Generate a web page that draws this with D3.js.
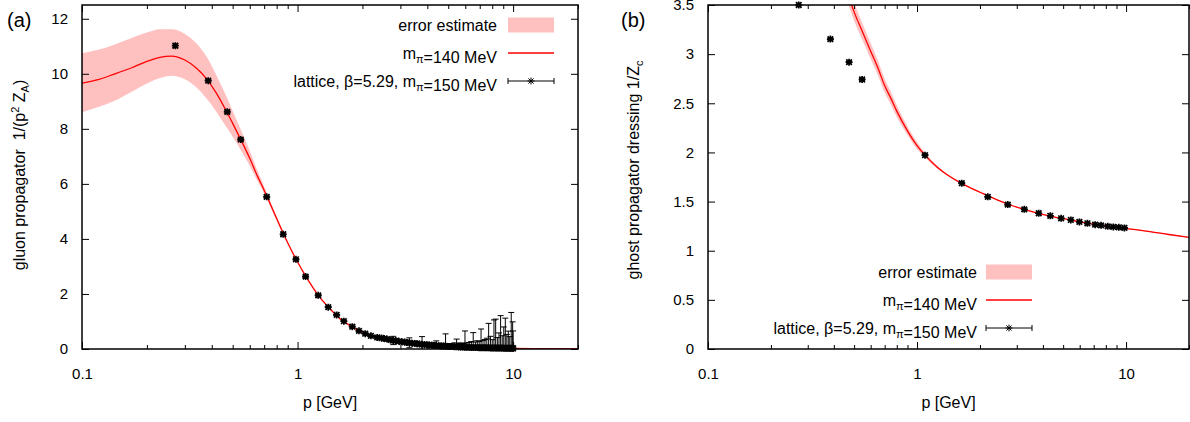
<!DOCTYPE html>
<html><head><meta charset="utf-8">
<script src="https://cdn.jsdelivr.net/npm/d3@7/dist/d3.min.js"></script>
<style>
body{margin:0;background:#fff;}
svg{font-family:"Liberation Sans",Arial,Helvetica,sans-serif;}
text{white-space:pre;}
</style></head><body>
<svg id="chart" width="1190" height="422"></svg>
<script>
// ---------- DATA ----------
const xMajorTicks = [0.1, 1, 10];
const xMajorLabels = ["0.1", "1", "10"];
const xMinorTicks = [0.2,0.3,0.4,0.5,0.6,0.7,0.8,0.9,2,3,4,5,6,7,8,9,20];
const yTicksA = [0,2,4,6,8,10,12];
const yTickLabelsA = ["0","2","4","6","8","10","12"];
const yTicksB = [0,0.5,1,1.5,2,2.5,3,3.5];
const yTickLabelsB = ["0","0.5","1","1.5","2","2.5","3","3.5"];

// panel (a): gluon propagator, DSE result (m_pi = 140 MeV) and error band
const gluonCurveP = [0.1,0.12,0.14,0.17,0.2,0.23,0.26,0.3,0.34,0.38,0.42,0.46,0.5,0.55,0.6,0.65,0.7,0.8,0.9,1.0,1.1,1.25,1.4,1.6,1.8,2.0,2.4,3,4,5,7,10,14,20];
const gluonCurve  = [9.66,9.8,9.98,10.22,10.45,10.6,10.64,10.5,10.2,9.8,9.3,8.75,8.2,7.55,6.93,6.3,5.77,4.74,3.86,3.16,2.6,1.94,1.5,1.05,0.8,0.6,0.4,0.26,0.14,0.09,0.045,0.022,0.011,0.006];
const gluonBandHi = [10.75,10.88,11.05,11.3,11.5,11.62,11.62,11.45,11.1,10.6,9.95,9.3,8.65,7.9,7.2,6.5,5.9,4.82,3.9,3.18,2.62,1.96,1.51,1.06,0.81,0.61,0.41,0.27,0.145,0.093,0.047,0.023,0.012,0.007];
const gluonBandLo = [8.6,8.8,9.0,9.35,9.65,9.85,9.93,9.8,9.5,9.08,8.62,8.15,7.72,7.18,6.66,6.12,5.64,4.66,3.82,3.14,2.58,1.92,1.49,1.04,0.79,0.59,0.39,0.25,0.135,0.087,0.043,0.021,0.01,0.005];

// panel (a): lattice gluon data (beta=5.29, m_pi=150 MeV)
const gluonLatP = [0.271,0.385,0.472,0.545,0.719,0.858,0.983,1.09,1.247,1.388,1.518,1.64,1.794,1.927,2.06,2.19,2.34,
  2.45,2.52,2.6,2.7,2.78,2.86,2.95,3.05,3.14,3.22,3.3,3.4,3.5,3.58,3.68,3.78,3.88,3.98,4.08,4.2,4.3,4.4,4.52,4.63,4.75,4.86,4.98,
  5.1,5.22,5.35,5.47,5.6,5.72,5.85,5.98,6.1,6.25,6.4,6.53,6.68,6.82,6.96,7.1,7.25,7.4,7.55,7.7,7.85,8.0,8.15,8.3,8.45,8.6,8.75,
  8.9,9.05,9.2,9.35,9.5,9.65,9.8,9.95,10.0];
const gluonLat = [11.02,9.75,8.62,7.61,5.53,4.17,3.26,2.63,1.95,1.52,1.24,1.01,0.81,0.66,0.556,0.48,0.42,
  0.40,0.38,0.36,0.33,0.31,0.30,0.28,0.26,0.25,0.235,0.225,0.21,0.20,0.19,0.18,0.17,0.16,0.155,0.145,0.14,0.13,0.125,0.12,0.11,0.105,0.10,0.095,
  0.09,0.088,0.083,0.08,0.076,0.072,0.07,0.066,0.064,0.06,0.058,0.055,0.053,0.05,0.049,0.047,0.045,0.044,0.042,0.041,0.04,0.038,0.037,0.036,0.035,0.034,0.033,
  0.032,0.031,0.031,0.030,0.029,0.029,0.028,0.027,0.026];
const gluonLatErr = [0.06,0.05,0.05,0.04,0.04,0.04,0.03,0.03,0.03,0.02,0.02,0.02,0.02,0.02,0.02,0.02,0.03,
  0.02,0.03,0.02,0.04,0.15,0.03,0.02,0.04,0.03,0.05,0.18,0.04,0.03,0.06,0.05,0.28,0.06,0.04,0.07,0.06,0.09,0.17,0.08,0.07,0.1,0.45,0.09,
  0.11,0.1,0.14,0.28,0.12,0.15,0.13,0.59,0.16,0.18,0.21,0.54,0.2,0.25,0.22,0.68,0.26,0.3,0.35,0.89,0.42,0.3,1.02,1.05,0.38,0.55,1.18,
  0.45,0.77,1.09,0.5,0.62,0.42,1.3,0.96,0.63];

// panel (b): ghost dressing, DSE result and error band
const ghostCurveP = [0.45,0.5,0.55,0.6,0.65,0.7,0.75,0.8,0.9,1.0,1.1,1.25,1.4,1.6,1.8,2.0,2.4,2.8,3.2,3.8,4.5,5.5,6.5,8,10,13,16,20];
const ghostCurve  = [3.72,3.43,3.22,3.03,2.86,2.68,2.55,2.42,2.22,2.07,1.965,1.85,1.77,1.695,1.64,1.595,1.52,1.465,1.425,1.38,1.345,1.31,1.28,1.25,1.226,1.195,1.165,1.136];
const ghostBandHi = [3.82,3.52,3.305,3.11,2.935,2.75,2.615,2.48,2.265,2.105,1.99,1.865,1.78,1.702,1.646,1.6,1.525,1.47,1.43,1.385,1.35,1.315,1.285,1.255,1.231,1.2,1.17,1.141];
const ghostBandLo = [3.62,3.34,3.135,2.95,2.785,2.61,2.485,2.36,2.175,2.035,1.94,1.835,1.76,1.688,1.634,1.59,1.515,1.46,1.42,1.375,1.34,1.305,1.275,1.245,1.221,1.19,1.16,1.131];

// panel (b): lattice ghost data
const ghostLatP = [0.2716,0.385,0.473,0.546,1.092,1.636,2.18,2.716,3.26,3.82,4.34,4.89,5.44,5.98,6.53,7.11,7.59,8.17,8.69,9.23,9.82];
const ghostLat  = [3.50,3.153,2.918,2.742,1.972,1.687,1.548,1.469,1.421,1.381,1.355,1.330,1.313,1.293,1.279,1.265,1.258,1.248,1.242,1.238,1.232];
const ghostLatErr = [0.01,0.01,0.01,0.01,0.008,0.006,0.005,0.005,0.004,0.004,0.004,0.004,0.004,0.004,0.004,0.004,0.004,0.004,0.004,0.004,0.004];

// legend labels (segments: [text, isSubscript])
const legendErr = [["error estimate", false]];
const legendDSE = [["m", false], ["π", true], ["=140 MeV", false]];
const legendLat = [["lattice, β=5.29, m", false], ["π", true], ["=150 MeV", false]];

// ---------- DRAWING ----------
const svg = d3.select("#chart");
const FONT = 16, TICKFONT = 15;
const RED = "#ff0000", PINK = "#ffc0c0";

function addSegments(textSel, segs) {
  segs.forEach(([t, sub]) => {
    if (sub) {
      textSel.append("tspan").attr("font-size", 11).attr("dy", 4).text(t);
      textSel.append("tspan").attr("dy", -4).text("");
    } else {
      textSel.append("tspan").text(t);
    }
  });
}

function panel(cfg) {
  const {x, y, id} = cfg;
  const [x0, x1] = x.range();
  const [y0, y1] = y.range(); // y0 bottom, y1 top
  const g = svg.append("g");

  g.append("clipPath").attr("id", id).append("rect")
    .attr("x", x0).attr("y", y1).attr("width", x1 - x0).attr("height", y0 - y1);

  const plot = g.append("g").attr("clip-path", `url(#${id})`);

  // band
  const bandData = cfg.bandP.map((p, i) => ({p, lo: cfg.bandLo[i], hi: cfg.bandHi[i]}));
  plot.append("path").datum(bandData)
    .attr("fill", PINK).attr("stroke", "none")
    .attr("d", d3.area().x(d => x(d.p)).y0(d => y(d.lo)).y1(d => y(d.hi)).curve(d3.curveMonotoneX));

  // curve
  const curveData = cfg.bandP.map((p, i) => ({p, v: cfg.curve[i]}));
  plot.append("path").datum(curveData)
    .attr("fill", "none").attr("stroke", RED).attr("stroke-width", 1.3)
    .attr("d", d3.line().x(d => x(d.p)).y(d => y(d.v)).curve(d3.curveMonotoneX));

  // error bars
  const lat = cfg.latP.map((p, i) => ({p, v: cfg.lat[i], e: cfg.latErr[i]}));
  const eb = plot.append("g").attr("stroke", "#000").attr("stroke-width", 1);
  lat.forEach(d => {
    const px = x(d.p), ya = y(d.v - d.e), yb = y(d.v + d.e);
    eb.append("line").attr("x1", px).attr("x2", px).attr("y1", ya).attr("y2", yb);
    eb.append("line").attr("x1", px - 3).attr("x2", px + 3).attr("y1", ya).attr("y2", ya);
    eb.append("line").attr("x1", px - 3).attr("x2", px + 3).attr("y1", yb).attr("y2", yb);
  });

  // points (star symbol)
  const star = "M-3.5,0H3.5M0,-3.5V3.5M-2.8,-2.8L2.8,2.8M-2.8,2.8L2.8,-2.8";
  g.append("g").selectAll("path.pt").data(lat).join("path")
    .attr("class", "pt")
    .attr("transform", d => `translate(${x(d.p)},${y(d.v)})`)
    .attr("d", star).attr("stroke", "#000").attr("stroke-width", 1.7).attr("fill", "none");

  // axes (ticks inward)
  const axG = g.append("g");
  axG.append("g").attr("transform", `translate(0,${y0})`)
    .call(d3.axisBottom(x).tickValues(xMajorTicks).tickFormat((d, i) => xMajorLabels[i]).tickSize(-7).tickPadding(19));
  axG.append("g").attr("transform", `translate(0,${y0})`)
    .call(d3.axisBottom(x).tickValues(xMinorTicks).tickFormat("").tickSize(-4));
  axG.append("g").attr("transform", `translate(0,${y1})`)
    .call(d3.axisTop(x).tickValues(xMajorTicks).tickFormat("").tickSize(-7));
  axG.append("g").attr("transform", `translate(0,${y1})`)
    .call(d3.axisTop(x).tickValues(xMinorTicks).tickFormat("").tickSize(-4));
  axG.append("g").attr("transform", `translate(${x0},0)`)
    .call(d3.axisLeft(y).tickValues(cfg.yTicks).tickFormat((d, i) => cfg.yTickLabels[i]).tickSize(-7).tickPadding(14));
  axG.append("g").attr("transform", `translate(${x1},0)`)
    .call(d3.axisRight(y).tickValues(cfg.yTicks).tickFormat("").tickSize(-7));
  axG.selectAll(".domain").remove();
  axG.selectAll(".tick line").attr("stroke", "#000").attr("stroke-width", 1);
  axG.selectAll(".tick text").attr("font-size", TICKFONT).attr("fill", "#000")
    .attr("font-family", '"Liberation Sans",Arial,sans-serif');

  // frame
  g.append("rect").attr("x", x0).attr("y", y1).attr("width", x1 - x0).attr("height", y0 - y1)
    .attr("fill", "none").attr("stroke", "#000").attr("stroke-width", 1.5);

  // x-axis title
  g.append("text").attr("x", (x0 + x1) / 2).attr("y", 408).attr("text-anchor", "middle")
    .attr("font-size", FONT).text("p [GeV]");

  // y-axis title
  const yt = g.append("text").attr("text-anchor", "middle").attr("font-size", FONT)
    .attr("transform", `translate(${cfg.yTitleX},${cfg.yTitleY}) rotate(-90)`);
  cfg.yTitle(yt);

  // panel tag
  g.append("text").attr("x", cfg.tagX).attr("y", 27).attr("font-size", 20).text(cfg.tag);

  // legend
  const L = cfg.legend;
  const rows = [legendErr, legendDSE, legendLat];
  rows.forEach((segs, i) => {
    const cy = L.y + i * L.dy;
    const t = g.append("text").attr("x", L.textX).attr("y", cy + 5.5).attr("text-anchor", "end").attr("font-size", FONT);
    addSegments(t, segs);
  });
  g.append("rect").attr("x", L.s0).attr("y", L.y - 7.5).attr("width", L.s1 - L.s0).attr("height", 15).attr("fill", PINK);
  g.append("line").attr("x1", L.s0).attr("x2", L.s1).attr("y1", L.y + L.dy).attr("y2", L.y + L.dy)
    .attr("stroke", RED).attr("stroke-width", 1.3);
  const ly = L.y + 2 * L.dy;
  const lg = g.append("g").attr("stroke", "#000").attr("stroke-width", 1);
  lg.append("line").attr("x1", L.s0).attr("x2", L.s1).attr("y1", ly).attr("y2", ly);
  lg.append("line").attr("x1", L.s0).attr("x2", L.s0).attr("y1", ly - 3).attr("y2", ly + 3);
  lg.append("line").attr("x1", L.s1).attr("x2", L.s1).attr("y1", ly - 3).attr("y2", ly + 3);
  g.append("path").attr("transform", `translate(${(L.s0 + L.s1) / 2},${ly})`)
    .attr("d", "M-3.5,0H3.5M0,-3.5V3.5M-2.6,-2.6L2.6,2.6M-2.6,2.6L2.6,-2.6")
    .attr("stroke", "#000").attr("stroke-width", 1).attr("fill", "none");
}

const xA = d3.scaleLog().domain([0.1, 20]).range([82, 578]);
const yA = d3.scaleLinear().domain([0, 12.5]).range([349, 5]);
const xB = d3.scaleLog().domain([0.1, 20]).range([708, 1189]);
const yB = d3.scaleLinear().domain([0, 3.5]).range([349, 5]);

panel({
  id: "clipA", x: xA, y: yA,
  bandP: gluonCurveP, curve: gluonCurve, bandHi: gluonBandHi, bandLo: gluonBandLo,
  latP: gluonLatP, lat: gluonLat, latErr: gluonLatErr,
  yTicks: yTicksA, yTickLabels: yTickLabelsA,
  yTitleX: 25, yTitleY: 175,
  yTitle: t => {
    t.append("tspan").text("gluon propagator  1/(p");
    t.append("tspan").attr("font-size", 11).attr("dy", -6).text("2");
    t.append("tspan").attr("dy", 6).text(" Z");
    t.append("tspan").attr("font-size", 11).attr("dy", 4).text("A");
    t.append("tspan").attr("dy", -4).text(")");
  },
  tag: "(a)", tagX: 7,
  legend: {textX: 497, y: 25, dy: 28, s0: 508, s1: 554}
});

panel({
  id: "clipB", x: xB, y: yB,
  bandP: ghostCurveP, curve: ghostCurve, bandHi: ghostBandHi, bandLo: ghostBandLo,
  latP: ghostLatP, lat: ghostLat, latErr: ghostLatErr,
  yTicks: yTicksB, yTickLabels: yTickLabelsB,
  yTitleX: 639, yTitleY: 170,
  yTitle: t => {
    t.append("tspan").text("ghost propagator dressing 1/Z");
    t.append("tspan").attr("font-size", 11).attr("dy", 4).text("c");
  },
  tag: "(b)", tagX: 621,
  legend: {textX: 977, y: 272, dy: 28, s0: 986, s1: 1032}
});
</script>
</body></html>
